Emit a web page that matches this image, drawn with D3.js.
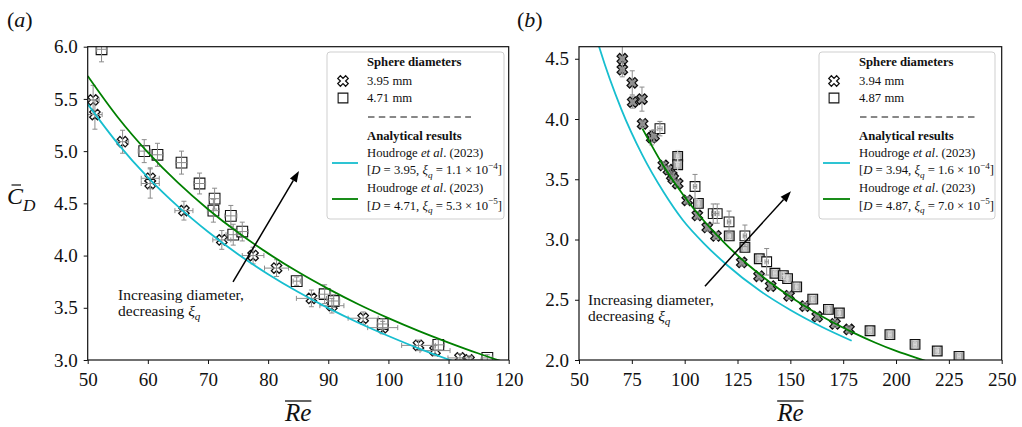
<!DOCTYPE html>
<html>
<head>
<meta charset="utf-8">
<script src="https://cdn.jsdelivr.net/npm/d3@7"></script>
<style>
  html, body { margin: 0; padding: 0; background: #fff; }
  svg { display: block; font-family: "Liberation Serif", "Times New Roman", serif; }
</style>
</head>
<body>
<svg id="chart" width="1022" height="427"></svg>
<script>
// ---------- Panel (a): sphere diameters 3.95 mm and 4.71 mm ----------
const a395Re    = [50.9, 51.2, 55.8, 60.4, 60.4, 66.0, 72.3, 77.5, 81.4, 87.2, 90.6, 95.8, 99.05, 105.0, 107.75, 111.9, 113.4];
const a395Cd    = [5.49, 5.35, 5.09, 4.74, 4.69, 4.43, 4.15, 4.00, 3.88, 3.59, 3.52, 3.40, 3.31, 3.14, 3.09, 3.02, 3.00];
const a395ReErr = [1.0, 1.2, 1.0, 1.5, 1.5, 1.5, 1.5, 1.8, 2.0, 2.5, 2.0, 2.5, 2.5, 2.8, 2.5, 2.0, 2.0];
const a395CdErr = [0.14, 0.14, 0.11, 0.10, 0.14, 0.09, 0.09, 0.08, 0.08, 0.08, 0.07, 0.06, 0.06, 0.05, 0.05, 0.04, 0.04];

const a471Re    = [52.3, 59.4, 61.6, 65.6, 68.6, 71.1, 70.9, 73.8, 74.2, 75.7, 84.75, 89.4, 90.9, 99.05, 108.3, 116.45];
const a471Cd    = [5.975, 5.00, 4.965, 4.89, 4.69, 4.545, 4.43, 4.38, 4.20, 4.23, 3.755, 3.63, 3.565, 3.345, 3.145, 3.02];
const a471ReErr = [0.8, 1.0, 1.0, 1.0, 1.0, 0.9, 1.0, 1.0, 1.2, 1.0, 0.6, 1.0, 1.0, 0.8, 1.0, 0.8];
const a471CdErr = [0.12, 0.11, 0.11, 0.11, 0.10, 0.10, 0.11, 0.10, 0.10, 0.09, 0.04, 0.09, 0.06, 0.05, 0.05, 0.03];

// Analytical curves, Houdroge et al. (2023)
const aCyanRe  = [50, 55, 60, 65, 70, 75, 80, 85, 90, 95, 100, 105, 110, 112];
const aCyanCd  = [5.45, 5.072, 4.749, 4.471, 4.228, 4.013, 3.822, 3.651, 3.497, 3.357, 3.230, 3.112, 3.005, 2.965];
const aGreenRe = [50, 55, 60, 65, 70, 75, 80, 85, 90, 95, 100, 105, 110, 115, 120];
const aGreenCd = [5.72, 5.325, 4.989, 4.698, 4.444, 4.220, 4.021, 3.842, 3.681, 3.534, 3.401, 3.279, 3.167, 3.062, 2.966];

const aXTicks = [50, 60, 70, 80, 90, 100, 110, 120];
const aYTicks = [3.0, 3.5, 4.0, 4.5, 5.0, 5.5, 6.0];

// ---------- Panel (b): sphere diameters 3.94 mm and 4.87 mm ----------
const b394Re    = [70.5, 70.5, 75.2, 75.4, 79.8, 80.1, 84.4, 85.5, 89.9, 92.3, 93.9, 94.6, 96.7, 101.2, 106.0, 110.7, 114.8, 127.0, 135.2, 140.7, 149.4, 156.9, 162.7, 171.1, 177.75];
const b394Cd    = [4.50, 4.41, 4.30, 4.14, 4.165, 3.96, 3.845, 3.86, 3.615, 3.58, 3.53, 3.505, 3.464, 3.325, 3.20, 3.10, 3.03, 2.81, 2.695, 2.613, 2.533, 2.447, 2.36, 2.30, 2.254];
const b394ReErr = [1.0, 1.0, 0.8, 0.8, 0.8, 0.8, 1.0, 1.0, 0.8, 0.8, 0.8, 0.8, 0.8, 0.8, 0.8, 0.8, 0.8, 0.8, 0.8, 0.8, 0.8, 0.8, 0.8, 0.8, 0.8];
const b394CdErr = [0.12, 0.06, 0.10, 0.05, 0.10, 0.03, 0.06, 0.05, 0.03, 0.03, 0.03, 0.03, 0.03, 0.03, 0.03, 0.03, 0.03, 0.03, 0.03, 0.03, 0.03, 0.03, 0.03, 0.03, 0.03];

// 4.87 mm, runs with wide scatter
const b487ARe    = [88.3, 104.9, 113.5, 115.4, 121.0, 128.5, 138.8];
const b487ACd    = [3.92, 3.44, 3.215, 3.215, 3.146, 3.03, 2.815];
const b487AReErr = [1.0, 0.8, 0.8, 0.8, 0.8, 0.8, 0.8];
const b487ACdErr = [0.06, 0.10, 0.08, 0.08, 0.09, 0.09, 0.11];
// 4.87 mm, runs with tight scatter
const b487BRe    = [96.7, 96.7, 106.5, 121.1, 128.5, 135.3, 142.7, 146.7, 148.7, 153.0, 160.6, 168.0, 173.2, 187.7, 197.1, 209.0, 219.5, 229.8];
const b487BCd    = [3.69, 3.62, 3.30, 3.03, 2.935, 2.84, 2.72, 2.70, 2.675, 2.607, 2.505, 2.42, 2.39, 2.243, 2.21, 2.13, 2.075, 2.03];
const b487BReErr = [0.6, 0.6, 0.6, 0.6, 0.6, 0.6, 0.6, 0.6, 0.6, 0.6, 0.6, 0.6, 0.6, 0.6, 0.6, 0.6, 0.6, 0.6];
const b487BCdErr = [0.05, 0.05, 0.03, 0.03, 0.03, 0.03, 0.03, 0.03, 0.03, 0.03, 0.03, 0.03, 0.03, 0.03, 0.03, 0.03, 0.03, 0.03];

const bCyanRe  = [57, 60, 70, 80, 90, 99, 110, 120, 135.6, 150, 165, 179];
const bCyanCd  = [4.75, 4.572, 4.082, 3.700, 3.394, 3.164, 2.952, 2.788, 2.574, 2.415, 2.274, 2.16];
const bGreenRe = [80, 90, 100, 110, 120, 130, 140, 150, 160, 170, 180, 190, 200, 210, 220];
const bGreenCd = [3.92, 3.610, 3.353, 3.137, 2.951, 2.790, 2.650, 2.525, 2.413, 2.313, 2.225, 2.145, 2.075, 2.015, 1.96];

const bXTicks = [50, 75, 100, 125, 150, 175, 200, 225, 250];
const bYTicks = [2.0, 2.5, 3.0, 3.5, 4.0, 4.5];

// ---------- Annotation arrows (data units: [Re, Cd]) ----------
const aArrow = [[74.16, 3.747], [85.13, 4.81]];
const bArrow = [[109.6, 2.613], [150.3, 3.40]];
const aNoteAt = [55.05, 3.574];
const bNoteAt = [54.26, 2.456];

// ---------- Legend texts ----------
const aLegendDiam = ["3.95 mm", "4.71 mm"];
const bLegendDiam = ["3.94 mm", "4.87 mm"];
const aLegendFit  = [["3.95", "1.1"], ["4.71", "5.3"]];
const aLegendExp  = ["−4", "−5"];
const bLegendFit  = [["3.94", "1.6"], ["4.87", "7.0"]];
const bLegendExp  = ["−4", "−5"];

// ---------- Drawing ----------
const svg = d3.select("#chart");
svg.append("rect").attr("width", 1022).attr("height", 427).attr("fill", "#fff");

const CYAN = "#17becf", GREEN = "#008000", BAR = "#8c8c8c", INK = "#111";

function zip(re, cd, rx, ry) {
  return re.map((r, i) => ({ re: r, cd: cd[i], ex: rx[i], ey: ry[i] }));
}

// text with italic / sub / superscript runs
function rich(textSel, segs, fs) {
  let cur = 0;
  segs.forEach(s => {
    const ts = textSel.append("tspan").text(s.t);
    if (s.it) ts.attr("font-style", "italic");
    if (s.b) ts.attr("font-weight", "bold");
    let shift = 0;
    if (s.sub) shift = 0.28 * fs;
    if (s.sup) shift = -0.4 * fs;
    if (shift !== cur) ts.attr("dy", shift - cur);
    cur = shift;
    if (s.sub || s.sup) ts.attr("font-size", (fs * 0.72).toFixed(2));
  });
}

const crossSym = d3.symbol().type(d3.symbolCross).size(68)();
const squareSym = d3.symbol().type(d3.symbolSquare);

function drawPanel(cfg) {
  const x = d3.scaleLinear().domain(cfg.xDom).range(cfg.xRange);
  const y = d3.scaleLinear().domain(cfg.yDom).range(cfg.yRange);
  const g = svg.append("g");
  const [x0, x1] = cfg.xRange, [yb, yt] = cfg.yRange;

  const clipId = "clip-" + cfg.key;
  svg.append("clipPath").attr("id", clipId)
    .append("rect").attr("x", x0).attr("y", yt).attr("width", x1 - x0).attr("height", yb - yt);

  const plot = g.append("g").attr("clip-path", `url(#${clipId})`);

  // markers
  cfg.series.forEach(s => {
    const sg = plot.append("g");
    s.data.forEach(d => {
      const px = x(d.re), py = y(d.cd);
      if (s.shape === "cross") {
        sg.append("path").attr("d", crossSym)
          .attr("transform", `translate(${px},${py}) rotate(45)`)
          .attr("fill", s.fill).attr("stroke", INK).attr("stroke-width", 1.3);
      } else {
        sg.append("path").attr("d", squareSym.size(s.size)())
          .attr("transform", `translate(${px},${py})`)
          .attr("fill", s.fill).attr("stroke", INK).attr("stroke-width", 1.1);
      }
    });
  });

  // error bars
  cfg.series.forEach(s => {
    const eg = plot.append("g").attr("stroke", s.barColor).attr("stroke-width", 1).attr("fill", "none");
    s.data.forEach(d => {
      const px = x(d.re), py = y(d.cd);
      const yl = y(d.cd - d.ey), yh = y(d.cd + d.ey);
      const xl = x(d.re - d.ex), xh = x(d.re + d.ex);
      eg.append("path").attr("d",
        `M${px},${yl}V${yh}M${px - 2.5},${yl}H${px + 2.5}M${px - 2.5},${yh}H${px + 2.5}` +
        `M${xl},${py}H${xh}M${xl},${py - 2.5}V${py + 2.5}M${xh},${py - 2.5}V${py + 2.5}`);
    });
  });

  // analytical curves
  const line = d3.line().x(d => x(d[0])).y(d => y(d[1])).curve(d3.curveMonotoneX);
  cfg.curves.forEach(c => {
    plot.append("path").datum(c.re.map((r, i) => [r, c.cd[i]]))
      .attr("d", line).attr("fill", "none").attr("stroke", c.color).attr("stroke-width", 1.8);
  });

  // axes
  const xAxis = d3.axisBottom(x).tickValues(cfg.xTicks).tickSize(4).tickSizeOuter(0).tickPadding(9)
    .tickFormat(d3.format("d"));
  const yAxis = d3.axisLeft(y).tickValues(cfg.yTicks).tickSize(4).tickSizeOuter(0).tickPadding(6)
    .tickFormat(d3.format(".1f"));
  const gx = g.append("g").attr("transform", `translate(0,${yb})`).call(xAxis);
  const gy = g.append("g").attr("transform", `translate(${x0},0)`).call(yAxis);
  [gx, gy].forEach(a => {
    a.attr("font-family", null);
    a.select(".domain").remove();
    a.selectAll(".tick line").attr("stroke", INK).attr("stroke-width", 1);
    a.selectAll(".tick text").attr("font-size", 19).attr("fill", INK);
  });

  // frame
  g.append("rect").attr("x", x0).attr("y", yt).attr("width", x1 - x0).attr("height", yb - yt)
    .attr("fill", "none").attr("stroke", INK).attr("stroke-width", 1.2);

  // x-axis label: Re with overline
  const xl = g.append("text").attr("x", (x0 + x1) / 2).attr("y", 421).attr("text-anchor", "middle")
    .attr("font-size", 25).attr("font-style", "italic").attr("fill", INK).text("Re");
  const bb = xl.node().getBBox();
  g.append("line").attr("x1", bb.x + 1).attr("x2", bb.x + bb.width).attr("y1", 401).attr("y2", 401)
    .attr("stroke", INK).attr("stroke-width", 1.3);

  // panel tag
  const tag = g.append("text").attr("x", cfg.tagX).attr("y", 26.5).attr("font-size", 22).attr("fill", INK);
  rich(tag, [{ t: "(" }, { t: cfg.key, it: true }, { t: ")" }], 22);

  // arrow
  const [p0, p1] = cfg.arrow.map(p => [x(p[0]), y(p[1])]);
  const ang = Math.atan2(p1[1] - p0[1], p1[0] - p0[0]);
  const hl = 11, hw = 4;
  const base = [p1[0] - hl * Math.cos(ang), p1[1] - hl * Math.sin(ang)];
  g.append("line").attr("x1", p0[0]).attr("y1", p0[1]).attr("x2", base[0]).attr("y2", base[1])
    .attr("stroke", "#000").attr("stroke-width", 1.5);
  g.append("path").attr("d",
    `M${p1[0]},${p1[1]}L${base[0] + hw * Math.sin(ang)},${base[1] - hw * Math.cos(ang)}` +
    `L${base[0] - hw * Math.sin(ang)},${base[1] + hw * Math.cos(ang)}Z`).attr("fill", "#000");

  // note
  const nx = x(cfg.noteAt[0]), ny = y(cfg.noteAt[1]);
  g.append("text").attr("x", nx).attr("y", ny).attr("font-size", 15.5).attr("fill", INK).text("Increasing diameter,");
  const n2 = g.append("text").attr("x", nx).attr("y", ny + 16).attr("font-size", 15.5).attr("fill", INK);
  rich(n2, [{ t: "decreasing " }, { t: "ξ", it: true }, { t: "q", it: true, sub: true }], 15.5);

  // legend
  const L = cfg.legend;
  const lg = g.append("g").attr("transform", `translate(${L.x},${L.y})`);
  lg.append("rect").attr("width", L.w).attr("height", 167).attr("rx", 3)
    .attr("fill", "#fff").attr("fill-opacity", 0.85).attr("stroke", "#cfcfcf").attr("stroke-width", 1);
  const fs = 12.7, tx = 40;
  lg.append("text").attr("x", tx).attr("y", 14).attr("font-size", fs).attr("font-weight", "bold").attr("fill", INK).text("Sphere diameters");
  lg.append("text").attr("x", tx).attr("y", 32.5).attr("font-size", fs).attr("fill", INK).text(L.diam[0]);
  lg.append("text").attr("x", tx).attr("y", 49.7).attr("font-size", fs).attr("fill", INK).text(L.diam[1]);
  lg.append("path").attr("d", crossSym).attr("transform", `translate(${L.mx},29) rotate(45)`)
    .attr("fill", "#fff").attr("stroke", INK).attr("stroke-width", 1.3);
  lg.append("path").attr("d", squareSym.size(95)()).attr("transform", `translate(${L.mx},46)`)
    .attr("fill", "#fff").attr("stroke", INK).attr("stroke-width", 1.1);
  lg.append("line").attr("x1", tx + 1).attr("x2", L.dashEnd).attr("y1", 65).attr("y2", 65)
    .attr("stroke", INK).attr("stroke-width", 1).attr("stroke-dasharray", "6.5,4.3");
  lg.append("text").attr("x", tx).attr("y", 87.5).attr("font-size", fs).attr("font-weight", "bold").attr("fill", INK).text("Analytical results");
  const rows = [[104.5, 122, 111, CYAN], [140, 157.5, 147, GREEN]];
  rows.forEach((r, i) => {
    const t1 = lg.append("text").attr("x", tx).attr("y", r[0]).attr("font-size", fs).attr("fill", INK);
    rich(t1, [{ t: "Houdroge " }, { t: "et al", it: true }, { t: ". (2023)" }], fs);
    const t2 = lg.append("text").attr("x", tx).attr("y", r[1]).attr("font-size", fs).attr("fill", INK);
    rich(t2, [{ t: "[" }, { t: "D", it: true }, { t: " = " + L.fit[i][0] + ", " }, { t: "ξ", it: true },
              { t: "q", it: true, sub: true }, { t: " = " + L.fit[i][1] + " × 10" }, { t: L.exp[i], sup: true }, { t: "]" }], fs);
    lg.append("line").attr("x1", L.lx0).attr("x2", L.lx1).attr("y1", r[2]).attr("y2", r[2])
      .attr("stroke", r[3]).attr("stroke-width", 1.8);
  });
}

drawPanel({
  key: "a", tagX: 7,
  xDom: [50, 120], yDom: [3, 6], xRange: [87.7, 508.7], yRange: [360, 46.7],
  xTicks: aXTicks, yTicks: aYTicks,
  series: [
    { shape: "cross", fill: "#fff", barColor: BAR, data: zip(a395Re, a395Cd, a395ReErr, a395CdErr) },
    { shape: "square", size: 115, fill: "#fff", barColor: BAR, data: zip(a471Re, a471Cd, a471ReErr, a471CdErr) }
  ],
  curves: [
    { re: aCyanRe, cd: aCyanCd, color: CYAN },
    { re: aGreenRe, cd: aGreenCd, color: GREEN }
  ],
  arrow: aArrow, noteAt: aNoteAt,
  legend: { x: 327, y: 52, w: 177, mx: 16, lx0: 5, lx1: 31, dashEnd: 144, diam: aLegendDiam, fit: aLegendFit, exp: aLegendExp }
});

drawPanel({
  key: "b", tagX: 517,
  xDom: [50, 250], yDom: [2, 4.6], xRange: [579, 1001.7], yRange: [360, 46.7],
  xTicks: bXTicks, yTicks: bYTicks,
  series: [
    { shape: "cross", fill: "#9b9b9b", barColor: BAR, data: zip(b394Re, b394Cd, b394ReErr, b394CdErr) },
    { shape: "square", size: 95, fill: "#a8a8a8", barColor: "#dcdcdc", data: zip(b487BRe, b487BCd, b487BReErr, b487BCdErr) },
    { shape: "square", size: 95, fill: "#fff", barColor: BAR, data: zip(b487ARe, b487ACd, b487AReErr, b487ACdErr) }
  ],
  curves: [
    { re: bCyanRe, cd: bCyanCd, color: CYAN },
    { re: bGreenRe, cd: bGreenCd, color: GREEN }
  ],
  arrow: bArrow, noteAt: bNoteAt,
  legend: { x: 819, y: 52, w: 176, mx: 15, lx0: 4, lx1: 31, dashEnd: 156, diam: bLegendDiam, fit: bLegendFit, exp: bLegendExp }
});

// y-axis label, C-bar with subscript D
const yl = svg.append("text").attr("x", 7).attr("y", 204).attr("font-size", 24).attr("fill", INK);
rich(yl, [{ t: "C", it: true }, { t: "D", it: true, sub: true }], 24);
svg.append("line").attr("x1", 11.5).attr("x2", 21).attr("y1", 185).attr("y2", 185).attr("stroke", INK).attr("stroke-width", 1.2);
</script>
</body>
</html>
